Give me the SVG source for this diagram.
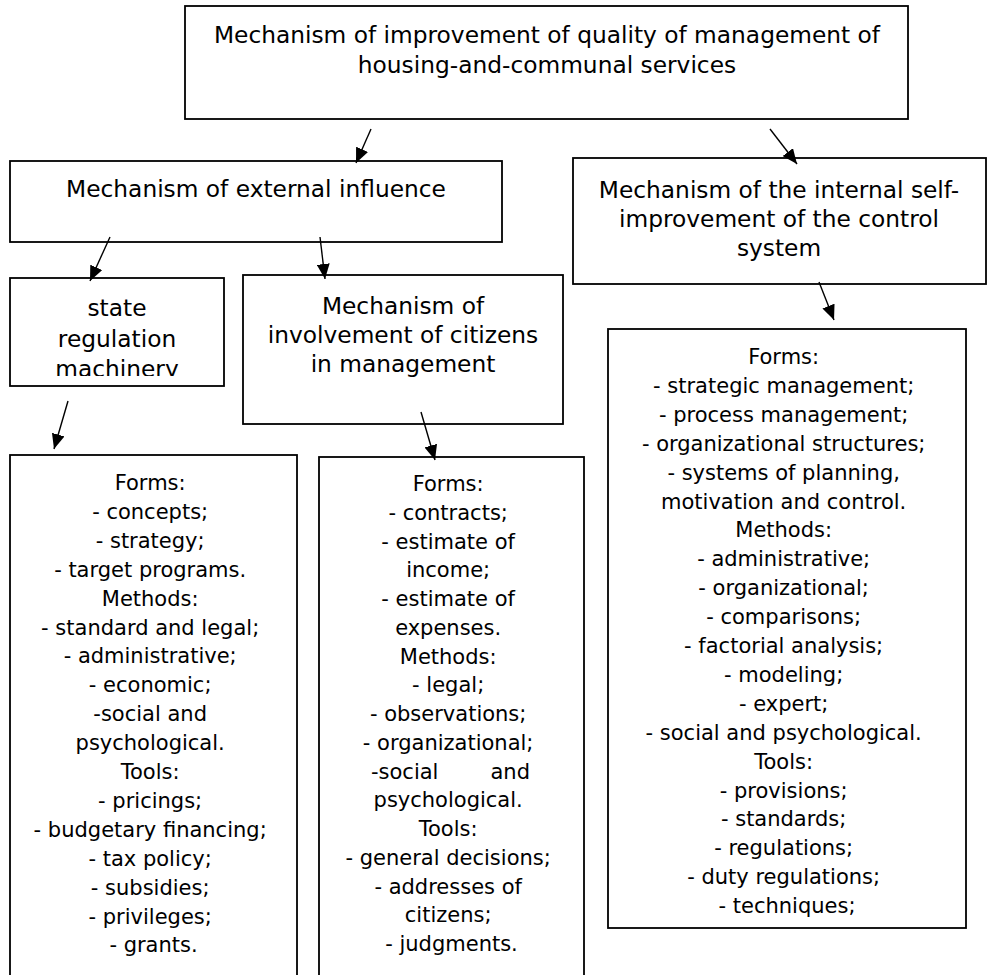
<svg xmlns="http://www.w3.org/2000/svg" width="988" height="975" viewBox="0 0 988 975">
<style>
.box{fill:#fff;stroke:#000;stroke-width:1.8}
.t{font-family:"DejaVu Sans","Verdana",sans-serif;fill:#000;text-anchor:middle}
.big{font-size:23.3px}
.sm{font-size:21px}
.conn line{stroke:#000;stroke-width:1.4;marker-end:url(#ah)}
</style>
<defs>
<marker id="ah" markerUnits="userSpaceOnUse" markerWidth="16" markerHeight="13" refX="15" refY="6.5" orient="auto">
<path d="M0,0 L15,6.5 L0,13 z" fill="#000"/>
</marker>
<clipPath id="stateclip"><rect x="10" y="278" width="214" height="98"/></clipPath>
</defs>
<rect width="988" height="975" fill="#fff"/>

<g id="top">
<rect class="box" x="185" y="6" width="723" height="113"/>
<text class="t big" x="547" y="43">Mechanism of improvement of quality of management of</text>
<text class="t big" x="547" y="73">housing-and-communal services</text>
</g>

<g id="external">
<rect class="box" x="10" y="161" width="492" height="81"/>
<text class="t big" x="256" y="197">Mechanism of external influence</text>
</g>

<g id="internal">
<rect class="box" x="573" y="158" width="413" height="126"/>
<text class="t big" x="779" y="198">Mechanism of the internal self-</text>
<text class="t big" x="779" y="227">improvement of the control</text>
<text class="t big" x="779" y="256">system</text>
</g>

<g id="state">
<rect class="box" x="10" y="278" width="214" height="108"/>
<g clip-path="url(#stateclip)">
<text class="t big" x="117" y="316">state</text>
<text class="t big" x="117" y="346.5">regulation</text>
<text class="t big" x="117" y="377">machinery</text>
</g>
</g>

<g id="citizens">
<rect class="box" x="243" y="275" width="320" height="149"/>
<text class="t big" x="403" y="314">Mechanism of</text>
<text class="t big" x="403" y="343">involvement of citizens</text>
<text class="t big" x="403" y="372">in management</text>
</g>

<g id="state-details">
<rect class="box" x="10" y="455" width="287" height="530"/>
<text class="t sm">
<tspan x="153.5" y="490">Forms:</tspan>
<tspan x="153.5" y="518.9">- concepts;</tspan>
<tspan x="153.5" y="547.8">- strategy;</tspan>
<tspan x="153.5" y="576.7">- target programs.</tspan>
<tspan x="153.5" y="605.6">Methods:</tspan>
<tspan x="153.5" y="634.5">- standard and legal;</tspan>
<tspan x="153.5" y="663.4">- administrative;</tspan>
<tspan x="153.5" y="692.3">- economic;</tspan>
<tspan x="153.5" y="721.2">-social and</tspan>
<tspan x="153.5" y="750.1">psychological.</tspan>
<tspan x="153.5" y="779">Tools:</tspan>
<tspan x="153.5" y="807.9">- pricings;</tspan>
<tspan x="153.5" y="836.8">- budgetary financing;</tspan>
<tspan x="153.5" y="865.7">- tax policy;</tspan>
<tspan x="153.5" y="894.6">- subsidies;</tspan>
<tspan x="153.5" y="923.5">- privileges;</tspan>
<tspan x="153.5" y="952.4">- grants.</tspan>
</text>
</g>

<g id="citizens-details">
<rect class="box" x="319" y="457" width="265" height="530"/>
<text class="t sm">
<tspan x="451.5" y="491">Forms:</tspan>
<tspan x="451.5" y="519.8">- contracts;</tspan>
<tspan x="451.5" y="548.5">- estimate of</tspan>
<tspan x="451.5" y="577.3">income;</tspan>
<tspan x="451.5" y="606">- estimate of</tspan>
<tspan x="451.5" y="634.8">expenses.</tspan>
<tspan x="451.5" y="663.5">Methods:</tspan>
<tspan x="451.5" y="692.3">- legal;</tspan>
<tspan x="451.5" y="721">- observations;</tspan>
<tspan x="451.5" y="749.8">- organizational;</tspan>
<tspan x="451.5" y="807.3">psychological.</tspan>
<tspan x="451.5" y="836">Tools:</tspan>
<tspan x="451.5" y="864.8">- general decisions;</tspan>
<tspan x="451.5" y="893.5">- addresses of</tspan>
<tspan x="451.5" y="922.3">citizens;</tspan>
<tspan x="451.5" y="951">- judgments.</tspan>
</text>
<text class="t sm" x="371" y="778.5" style="text-anchor:start">-social</text>
<text class="t sm" x="530" y="778.5" style="text-anchor:end">and</text>
</g>

<g id="internal-details">
<rect class="box" x="608" y="329" width="358" height="599"/>
<text class="t sm">
<tspan x="787" y="364">Forms:</tspan>
<tspan x="787" y="392.9">- strategic management;</tspan>
<tspan x="787" y="421.8">- process management;</tspan>
<tspan x="787" y="450.7">- organizational structures;</tspan>
<tspan x="787" y="479.6">- systems of planning,</tspan>
<tspan x="787" y="508.5">motivation and control.</tspan>
<tspan x="787" y="537.4">Methods:</tspan>
<tspan x="787" y="566.3">- administrative;</tspan>
<tspan x="787" y="595.2">- organizational;</tspan>
<tspan x="787" y="624.1">- comparisons;</tspan>
<tspan x="787" y="653">- factorial analysis;</tspan>
<tspan x="787" y="681.9">- modeling;</tspan>
<tspan x="787" y="710.8">- expert;</tspan>
<tspan x="787" y="739.7">- social and psychological.</tspan>
<tspan x="787" y="768.6">Tools:</tspan>
<tspan x="787" y="797.5">- provisions;</tspan>
<tspan x="787" y="826.4">- standards;</tspan>
<tspan x="787" y="855.3">- regulations;</tspan>
<tspan x="787" y="884.2">- duty regulations;</tspan>
<tspan x="787" y="913.1">- techniques;</tspan>
</text>
</g>

<g id="connectors" class="conn">
<line x1="371" y1="129" x2="356" y2="163"/>
<line x1="770" y1="129" x2="797" y2="164"/>
<line x1="110" y1="237" x2="90" y2="281"/>
<line x1="320" y1="237" x2="325" y2="279"/>
<line x1="68" y1="401" x2="54" y2="449"/>
<line x1="421" y1="412" x2="435" y2="460"/>
<line x1="819" y1="282" x2="834" y2="320"/>
</g>
</svg>
